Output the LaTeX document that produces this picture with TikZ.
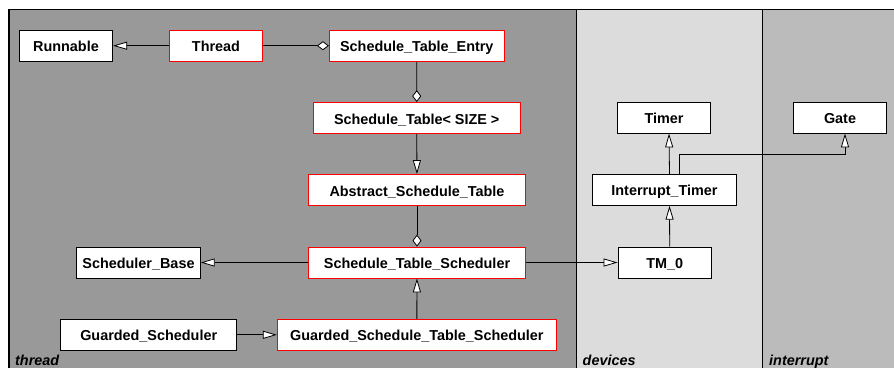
\documentclass[tikz,border=0pt]{standalone}
\usepackage{fontspec}
\setmainfont{Liberation Sans}
\usetikzlibrary{arrows.meta}

\definecolor{threadgray}{HTML}{999999}
\definecolor{devgray}{HTML}{DCDCDC}
\definecolor{intgray}{HTML}{BBBBBB}

\begin{document}
\begin{tikzpicture}[x=1pt, y=-1pt,
  cls/.style={draw=black, fill=white, line width=0.8pt, inner sep=0pt,
    minimum height=31pt, text height=12pt, text depth=0pt,
    font=\fontsize{14.4}{17}\selectfont\bfseries},
  tcls/.style={cls, draw=red},
  inh/.style={line width=0.8pt, -{Triangle[fill=white, length=14pt, width=8pt]}},
  agg/.style={line width=0.8pt, -{Diamond[fill=white, length=12pt, width=9pt]}},
  pkg/.style={anchor=base west, inner sep=0pt,
    font=\fontsize{14.4}{17}\selectfont\bfseries\itshape}]

\useasboundingbox (0,0) rectangle (894,368);

% package areas
\fill[threadgray] (9,9.5) rectangle (576,368);
\fill[devgray] (576,9.5) rectangle (762.7,368);
\fill[intgray] (762.7,9.5) rectangle (894,368);
\draw[line width=1.5pt] (9,368) -- (9,9.5) -- (894,9.5);
\draw[line width=1pt] (576,9.5) -- (576,368);
\draw[line width=1pt] (762.7,9.5) -- (762.7,368);

\node[pkg] (lblthread) at (15,365.5) {thread};
\node[pkg] (lbldevices) at (582.5,365.5) {devices};
\node[pkg] (lblinterrupt) at (769,365.5) {interrupt};

% thread
\node[cls, minimum width=93.4pt] (runnable) at (66,45.7) {Runnable};
\node[tcls, minimum width=93.4pt] (thread) at (216,45.7) {Thread};
\node[tcls, minimum width=175pt] (entry) at (416.8,45.7) {Schedule\_Table\_Entry};
\node[tcls, minimum width=206.7pt] (table) at (416.7,118) {Schedule\_Table< SIZE >};
\node[tcls, minimum width=217.4pt] (abstable) at (417,190) {Abstract\_Schedule\_Table};
\node[tcls, minimum width=217.4pt] (tsched) at (417,262.5) {Schedule\_Table\_Scheduler};
\node[tcls, minimum width=279pt] (gtsched) at (416.8,334.8) {Guarded\_Schedule\_Table\_Scheduler};
\node[cls, minimum width=123.6pt] (schedbase) at (138.5,262.5) {Scheduler\_Base};
\node[cls, minimum width=176pt] (gsched) at (148.7,334.8) {Guarded\_Scheduler};

% devices
\node[cls, minimum width=93.4pt] (timer) at (664,117.5) {Timer};
\node[cls, minimum width=144.4pt] (itimer) at (664.5,189.8) {Interrupt\_Timer};
\node[cls, minimum width=93.4pt] (tm) at (664.7,262.5) {TM\_0};

% interrupt
\node[cls, minimum width=93.4pt] (gate) at (840,117.5) {Gate};

\draw[inh] (thread) -- (runnable);
\draw[agg] (thread) -- (entry);
\draw[agg] (entry) -- (table);
\draw[inh] (table) -- (abstable);
\draw[agg] (abstable) -- (tsched);
\draw[inh] (tsched) -- (schedbase);
\draw[inh] (tsched) -- (tm);
\draw[inh] (gtsched) -- (tsched);
\draw[inh] (gsched) -- (gtsched);
\draw[inh] ([xshift=5pt]tm.north) -- ([xshift=5pt]itimer.south);
\draw[inh] ([xshift=5pt]itimer.north) -- ([xshift=5pt]timer.south);
\draw[inh] ([xshift=15pt]itimer.north) -- ++(0,-20) -| ([xshift=5pt]gate.south);

\end{tikzpicture}
\end{document}
